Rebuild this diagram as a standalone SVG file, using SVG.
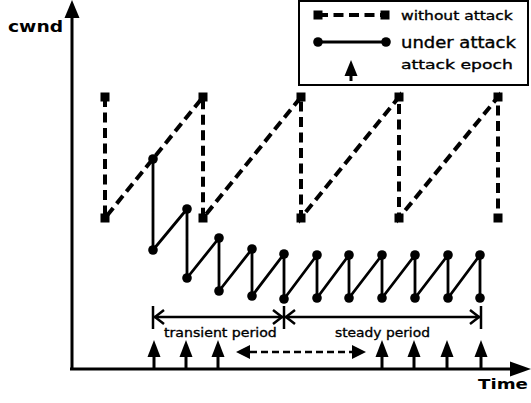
<svg xmlns="http://www.w3.org/2000/svg" width="531" height="403" viewBox="0 0 531 403">
  <style>
    .axis { stroke: #000; stroke-width: 3; fill: none; }
    .dash { stroke: #000; stroke-width: 4; fill: none; stroke-dasharray: 10 5.5; }
    .solid { stroke: #000; stroke-width: 2.8; fill: none; stroke-linejoin: round; }
    .thin { stroke: #000; stroke-width: 2.5; fill: none; }
    .sq { fill: #000; }
    .dot { fill: #000; }
    .lbl { font-family: "DejaVu Sans", Verdana, sans-serif; fill: #000; }
    .heavy { stroke: #000; stroke-width: 0.35; }
  </style>
  <defs>
    <rect id="sq" x="-4.5" y="-4.5" width="9" height="9" class="sq"/>
    <circle id="dot" r="4.8" class="dot"/>
    <!-- upward attack arrow, tip at origin -->
    <g id="up">
      <path d="M0,0 L-6.5,17 L6.5,17 Z" fill="#000"/>
      <line x1="0" y1="14" x2="0" y2="29" stroke="#000" stroke-width="3"/>
    </g>
    <g id="up-short">
      <path d="M0,0 L-6.5,16 L6.5,16 Z" fill="#000"/>
      <line x1="0" y1="13" x2="0" y2="21" stroke="#000" stroke-width="3"/>
    </g>
  </defs>

  <!-- axes -->
  <g id="axes">
    <line class="axis" x1="72" y1="369" x2="72" y2="14"/>
    <path d="M72,0 L64.5,18 L79.5,18 Z" fill="#000"/>
    <line class="axis" x1="70" y1="369" x2="514" y2="369"/>
    <path d="M531,369 L510,361.5 L510,376.5 Z" fill="#000"/>
    <g transform="translate(8,32) scale(1.17,1)"><text class="lbl" x="0" y="0" font-size="16" font-weight="bold">cwnd</text></g>
    <g transform="translate(478,389) scale(1.3,1)"><text class="lbl" x="0" y="0" font-size="14" font-weight="bold">Time</text></g>
  </g>

  <!-- legend -->
  <g id="legend">
    <rect x="299" y="1" width="229" height="84" fill="#fff" stroke="#000" stroke-width="2"/>
    <line class="dash" x1="318" y1="15" x2="385" y2="15"/>
    <use href="#sq" x="318" y="15"/>
    <use href="#sq" x="385" y="15"/>
    <line class="solid" x1="318" y1="42" x2="386" y2="42"/>
    <use href="#dot" x="318" y="42"/>
    <use href="#dot" x="386" y="42"/>
    <use href="#up-short" x="351" y="60"/>
    <g transform="translate(401,20) scale(1.24,1)"><text class="lbl heavy" x="0" y="0" font-size="12.5">without attack</text></g>
    <g transform="translate(401,48) scale(1.2,1)"><text class="lbl heavy" x="0" y="0" font-size="15" stroke-width="0.5">under attack</text></g>
    <g transform="translate(401,69) scale(1.325,1)"><text class="lbl heavy" x="0" y="0" font-size="13">attack epoch</text></g>
  </g>

  <!-- connectors: cwnd traces -->
  <g id="connectors">
    <path class="dash" d="M105,97 L105,218 L203,97 L203,218 L301,97 L301,218 L399,97 L399,218 L498,97 L498,218"/>
    <path class="solid" d="M153,159 L153,250 L187,209 L187,278 L219,238 L219,291 L252,249 L252,296 L284,254 L284,299 L317,255 L317,298 L349,255 L349,298 L382,255 L382,298 L415,255 L415,298 L448,255 L448,298 L480,255 L480,298"/>
  </g>

  <!-- without attack samples -->
  <g id="without-attack">
    <use href="#sq" x="105" y="97"/><use href="#sq" x="105" y="218"/>
    <use href="#sq" x="203" y="97"/><use href="#sq" x="203" y="218"/>
    <use href="#sq" x="301" y="97"/><use href="#sq" x="301" y="218"/>
    <use href="#sq" x="399" y="97"/><use href="#sq" x="399" y="218"/>
    <use href="#sq" x="498" y="97"/><use href="#sq" x="498" y="218"/>
  </g>

  <!-- under attack samples -->
  <g id="under-attack">
    <use href="#dot" x="153" y="159"/><use href="#dot" x="153" y="250"/>
    <use href="#dot" x="187" y="209"/><use href="#dot" x="187" y="278"/>
    <use href="#dot" x="219" y="238"/><use href="#dot" x="219" y="291"/>
    <use href="#dot" x="252" y="249"/><use href="#dot" x="252" y="296"/>
    <use href="#dot" x="284" y="254"/><use href="#dot" x="284" y="299"/>
    <use href="#dot" x="317" y="255"/><use href="#dot" x="317" y="298"/>
    <use href="#dot" x="349" y="255"/><use href="#dot" x="349" y="298"/>
    <use href="#dot" x="382" y="255"/><use href="#dot" x="382" y="298"/>
    <use href="#dot" x="415" y="255"/><use href="#dot" x="415" y="298"/>
    <use href="#dot" x="448" y="255"/><use href="#dot" x="448" y="298"/>
    <use href="#dot" x="480" y="255"/><use href="#dot" x="480" y="298"/>
  </g>

  <!-- periods -->
  <g id="periods">
    <line class="thin" x1="153" y1="306" x2="153" y2="329"/>
    <line class="thin" x1="284" y1="306" x2="284" y2="329"/>
    <line class="thin" x1="481" y1="306" x2="481" y2="329"/>
    <line class="thin" x1="154" y1="317" x2="480" y2="317"/>
    <path class="thin" d="M164,310 L155,317 L164,324"/>
    <path class="thin" d="M273,310 L282,317 L273,324"/>
    <path class="thin" d="M295,310 L286,317 L295,324"/>
    <path class="thin" d="M470,310 L479,317 L470,324"/>
    <g transform="translate(164,337) scale(1.087,1)"><text class="lbl heavy" x="0" y="0" font-size="13">transient period</text></g>
    <g transform="translate(335,337) scale(1.064,1)"><text class="lbl heavy" x="0" y="0" font-size="13">steady period</text></g>
  </g>

  <!-- attack epochs -->
  <g id="epochs">
    <use href="#up" x="154" y="340"/>
    <use href="#up" x="186" y="340"/>
    <use href="#up" x="218" y="340"/>
    <use href="#up" x="382" y="340"/>
    <use href="#up" x="414" y="340"/>
    <use href="#up" x="447" y="340"/>
    <use href="#up" x="481" y="340"/>
    <line class="thin" x1="250" y1="352" x2="352" y2="352" stroke-width="3" stroke-dasharray="7 4"/>
    <path d="M236,352 L250,345 L250,359 Z" fill="#000"/>
    <path d="M366,352 L352,345 L352,359 Z" fill="#000"/>
  </g>
</svg>
